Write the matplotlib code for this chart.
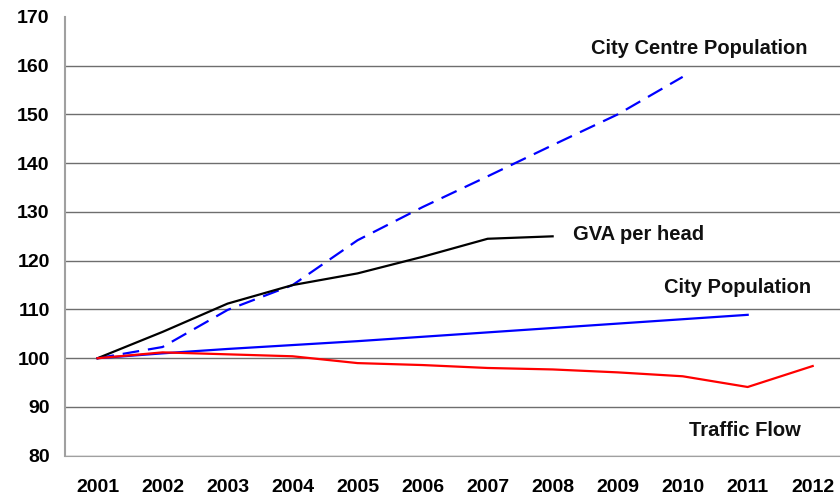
import matplotlib
matplotlib.use('Agg')

import numpy as np
import matplotlib.pyplot as plt

years = ['2001', '2002', '2003', '2004', '2005', '2006',
         '2007', '2008', '2009', '2010', '2011', '2012']

# index values, 2001 = 100
city_centre_pop = [100, 102.3, 109.9, 115.0, 124.2, 131.0, 137.3, 143.7, 150.0, 157.7]
gva_per_head = [100, 105.4, 111.2, 115.0, 117.4, 120.8, 124.5, 125.0]
city_pop = [100, 101.0, 101.9, 102.7, 103.5, 104.4, 105.3, 106.2, 107.1, 108.0, 108.9]
traffic_flow = [100, 101.2, 100.8, 100.4, 99.0, 98.6, 98.0, 97.7, 97.1, 96.3, 94.1, 98.4]

plt.rcParams['font.family'] = ['Liberation Sans', 'DejaVu Sans']

fig = plt.figure(figsize=(8.4, 4.97), dpi=100)
ax = fig.add_axes([0.0774, 0.083, 0.9226, 0.883])

x = np.arange(len(years))
ax.plot(x[:len(city_centre_pop)], city_centre_pop, color='#0000ff', lw=1.6,
        dashes=(7.5, 4))
ax.plot(x[:len(gva_per_head)], gva_per_head, color='black', lw=1.6)
ax.plot(x[:len(city_pop)], city_pop, color='#0000ff', lw=1.6)
ax.plot(x[:len(traffic_flow)], traffic_flow, color='#ff0000', lw=1.6)

lab = dict(fontsize=14.5, fontweight='bold', color='#111111', va='center')
ax.text(9.25, 163.6, 'City Centre Population', ha='center', **lab)
ax.text(7.32, 125.3, 'GVA per head', ha='left', **lab)
ax.text(8.71, 114.6, 'City Population', ha='left', **lab)
ax.text(9.09, 85.2, 'Traffic Flow', ha='left', **lab)

ax.set_xlim(-0.5, 11.42)
ax.set_ylim(80, 170)
ax.set_yticks(np.arange(80, 171, 10))
ax.set_xticks(x)
ax.set_xticklabels(years)
ax.tick_params(length=0, labelsize=14)
ax.tick_params(axis='x', pad=17)
ax.tick_params(axis='y', pad=11)
for t in ax.get_xticklabels() + ax.get_yticklabels():
    t.set_fontweight('bold')

ax.yaxis.grid(True, color='#6e6e6e', lw=1.0)
ax.get_ygridlines()[-1].set_visible(False)
ax.set_axisbelow(True)
for side in ['top', 'right']:
    ax.spines[side].set_visible(False)
ax.spines['left'].set_color('#a0a0a0')
ax.spines['bottom'].set_color('#a0a0a0')
ax.spines['left'].set_linewidth(1.5)

fig.savefig('out.png', dpi=100)
